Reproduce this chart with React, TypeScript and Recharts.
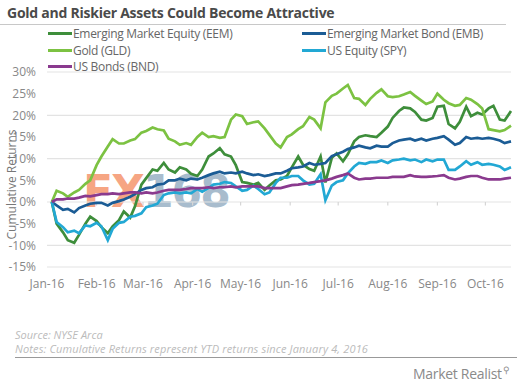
import React from "react";
import {
  LineChart,
  Line,
  XAxis,
  YAxis,
  CartesianGrid,
  ReferenceLine,
} from "recharts";

// day of year 2016 (Jan 1 = 0), about twice a week from Jan 4
const days = [
  3, 6, 10, 13, 17, 20, 24, 27, 31, 34, 38, 41, 45, 48, 52, 55, 59, 62, 66, 69,
  73, 76, 80, 83, 87, 90, 94, 97, 101, 104, 108, 111, 115, 118, 122, 125, 129,
  132, 136, 139, 143, 146, 150, 153, 157, 160, 164, 167, 171, 174, 178, 181,
  185, 188, 192, 195, 199, 202, 206, 209, 213, 216, 220, 223, 227, 230, 234,
  237, 241, 244, 248, 251, 255, 258, 262, 265, 269, 272, 276, 279, 283, 286,
  290,
];

const eem = [
  0, -5.0, -7.0, -8.8, -9.4, -7.6, -5.0, -3.4, -4.4, -5.8,
  -7.2, -5.6, -4.2, -2.2, -3.6, -1.0, 4.0, 5.5, 7.5, 7.2,
  9.0, 7.5, 6.8, 8.0, 7.5, 6.5, 6.0, 7.5, 10.5, 11.2,
  12.4, 11.0, 10.5, 8.5, 4.6, 4.4, 4.0, 4.4, 2.8, 3.8,
  5.0, 5.2, 6.0, 8.0, 10.5, 8.6, 7.6, 7.2, 10.5, 4.5,
  10.2, 11.2, 9.4, 11.0, 14.0, 15.0, 15.4, 15.2, 15.0, 16.0,
  17.4, 19.4, 21.0, 21.8, 21.6, 20.8, 19.0, 18.8, 19.4, 22.0,
  22.2, 18.0, 17.0, 18.5, 22.0, 19.8, 20.6, 20.2, 21.6, 22.2,
  19.0, 18.8, 21.0,
];

const emb = [
  0, -0.8, -1.8, -1.6, -2.4, -1.4, -0.8, -0.4, -0.2, -0.2,
  -0.8, -0.2, 0.2, 0.6, 1.2, 1.8, 2.8, 3.2, 3.4, 4.0,
  4.2, 5.0, 5.0, 5.4, 5.0, 5.4, 5.2, 5.6, 6.2, 6.6,
  7.0, 6.6, 6.8, 6.6, 7.0, 6.6, 6.2, 6.4, 6.0, 6.2,
  6.6, 6.6, 7.2, 7.8, 8.0, 8.2, 9.0, 8.6, 8.8, 9.0,
  10.6, 11.0, 11.6, 12.2, 12.6, 13.0, 12.6, 12.4, 13.0, 12.8,
  12.8, 13.6, 14.2, 14.4, 14.6, 14.2, 14.6, 14.2, 14.6, 14.8,
  15.2, 14.4, 13.2, 13.6, 15.0, 14.6, 14.8, 14.6, 14.8, 14.6,
  14.2, 13.6, 14.0,
];

const gld = [
  0, 2.6, 2.0, 1.2, 2.2, 2.8, 4.2, 5.0, 8.5, 10.5,
  12.8, 14.5, 13.5, 13.5, 14.2, 14.5, 16.0, 16.4, 17.2, 16.8,
  16.5, 14.6, 14.0, 13.2, 13.6, 13.2, 15.0, 16.0, 15.0, 15.2,
  14.8, 15.0, 19.0, 20.2, 19.8, 18.0, 18.4, 18.6, 17.0, 15.5,
  13.5, 12.6, 15.0, 15.6, 16.8, 17.5, 19.6, 19.0, 17.0, 23.0,
  24.5, 25.0, 26.2, 27.0, 24.0, 23.8, 22.4, 23.8, 25.2, 26.0,
  24.4, 24.2, 24.4, 24.8, 25.4, 24.5, 23.4, 22.6, 23.2, 25.0,
  23.6, 22.8, 22.2, 22.4, 24.0, 23.6, 22.6, 21.6, 16.8, 16.6,
  16.3, 16.6, 17.6,
];

const spy = [
  0, -4.6, -5.8, -7.0, -6.6, -7.2, -5.4, -5.6, -4.8, -5.6,
  -8.8, -6.2, -4.8, -4.6, -3.4, -3.2, -2.6, -1.2, -0.8, -0.4,
  1.6, 2.0, 2.2, 2.0, 2.2, 2.0, 3.0, 2.4, 3.2, 4.0,
  4.2, 4.6, 4.4, 3.6, 2.6, 2.8, 3.8, 3.0, 1.8, 2.2,
  4.4, 5.6, 5.6, 6.0, 6.0, 5.0, 4.0, 4.2, 6.4, 0.4,
  3.8, 4.6, 5.0, 6.6, 8.2, 9.0, 8.8, 9.2, 9.2, 9.6,
  9.0, 9.6, 9.8, 10.0, 9.6, 9.8, 9.2, 9.8, 9.4, 9.8,
  9.8, 7.4, 7.4, 8.2, 9.4, 8.6, 9.2, 8.6, 8.8, 8.6,
  8.2, 7.4, 8.0,
];

const bnd = [
  0, 0.6, 0.6, 0.8, 0.8, 1.0, 1.4, 1.3, 1.6, 1.8,
  1.8, 2.0, 1.8, 2.0, 2.2, 2.2, 2.0, 2.2, 2.0, 2.2,
  2.6, 2.8, 2.8, 2.8, 3.0, 3.2, 3.2, 3.2, 3.4, 3.2,
  3.4, 3.4, 3.6, 3.4, 3.6, 3.6, 3.6, 3.6, 3.2, 3.2,
  3.2, 3.2, 3.6, 3.9, 4.0, 4.2, 4.4, 4.6, 4.8, 5.0,
  5.4, 5.8, 6.2, 6.6, 5.6, 5.2, 5.4, 5.4, 5.6, 5.6,
  5.6, 5.8, 5.8, 5.8, 6.2, 5.9, 5.8, 5.8, 5.9, 6.0,
  6.2, 5.6, 5.2, 5.4, 5.8, 6.0, 6.0, 5.6, 5.2, 5.2,
  5.2, 5.4, 5.6,
];

const monthStarts = [0, 31, 60, 91, 121, 152, 182, 213, 244, 274];
const monthLabels = [
  "Jan-16", "Feb-16", "Mar-16", "Apr-16", "May-16",
  "Jun-16", "Jul-16", "Aug-16", "Sep-16", "Oct-16",
];
const yTicks = [-15, -10, -5, 0, 5, 10, 15, 20, 25, 30];

const series = [
  { key: "eem", name: "Emerging Market Equity (EEM)", color: "#3e8e3b" },
  { key: "emb", name: "Emerging Market Bond (EMB)", color: "#1b5c95" },
  { key: "gld", name: "Gold (GLD)", color: "#7cc242" },
  { key: "spy", name: "US Equity (SPY)", color: "#22a8d4" },
  { key: "bnd", name: "US Bonds (BND)", color: "#8a3a8e" },
];

const data = days.map((d, i) => ({
  day: d,
  eem: eem[i],
  emb: emb[i],
  gld: gld[i],
  spy: spy[i],
  bnd: bnd[i],
}));

const font = "'Open Sans', sans-serif";

const legendPos = [
  { left: 48, top: 25 },
  { left: 302, top: 25 },
  { left: 48, top: 42 },
  { left: 302, top: 42 },
  { left: 48, top: 58 },
];

export default function App() {
  return (
    <div
      style={{
        position: "absolute",
        left: 0,
        top: 0,
        width: 532,
        height: 382,
        background: "#fff",
        fontFamily: font,
        overflow: "hidden",
      }}
    >
      <div
        style={{
          position: "absolute",
          left: 7,
          top: 3,
          fontSize: 14,
          fontWeight: 700,
          color: "#4a4a4a",
          whiteSpace: "nowrap",
          letterSpacing: -0.25,
        }}
      >
        Gold and Riskier Assets Could Become Attractive
      </div>
      <div
        style={{
          position: "absolute",
          left: 0,
          top: 24,
          width: 506,
          height: 1,
          background: "#c8c8c8",
        }}
      />

      {/* watermark */}
      <div
        style={{
          position: "absolute",
          left: 83,
          top: 166,
          fontSize: 44,
          fontWeight: 700,
          fontFamily: "'DejaVu Sans', sans-serif",
          whiteSpace: "nowrap",
          letterSpacing: -2,
        }}
      >
        <span style={{ color: "#f6a583" }}>FX</span>
        <span style={{ color: "#a8bccd" }}>168</span>
      </div>

      {series.map((s, i) => (
        <div
          key={s.key}
          style={{
            position: "absolute",
            left: legendPos[i].left,
            top: legendPos[i].top,
            display: "flex",
            alignItems: "center",
            fontSize: 12,
            color: "#666",
            whiteSpace: "nowrap",
            letterSpacing: -0.3,
          }}
        >
          <span
            style={{
              display: "inline-block",
              width: 24,
              height: 3,
              background: s.color,
              marginRight: 1,
            }}
          />
          {s.name}
        </div>
      ))}

      <div style={{ position: "absolute", left: 0, top: 0 }}>
        <LineChart
          width={532}
          height={382}
          data={data}
          margin={{ top: 72, right: 21, bottom: 85, left: 0 }}
        >
          <CartesianGrid vertical={false} stroke="#e3e3e3" strokeWidth={1.2} />
          <XAxis
            type="number"
            dataKey="day"
            domain={[0, 290]}
            ticks={monthStarts}
            tickFormatter={(v: number) => monthLabels[monthStarts.indexOf(v)]}
            axisLine={false}
            tickLine={false}
            tickSize={0}
            tickMargin={12}
            interval={0}
            tick={{ fill: "#888", fontSize: 12, fontFamily: font }}
          />
          <YAxis
            type="number"
            domain={[-15, 30]}
            ticks={yTicks}
            tickFormatter={(v: number) => `${v}%`}
            axisLine={false}
            tickLine={false}
            tickSize={0}
            tickMargin={11}
            width={47}
            tick={{ fill: "#888", fontSize: 12, fontFamily: font }}
            label={{
              value: "Cumulative Returns",
              angle: -90,
              position: "insideLeft",
              offset: 12,
              dy: 15,
              style: {
                fill: "#777",
                fontSize: 12,
                fontFamily: font,
                textAnchor: "middle",
              },
            }}
          />
          {monthStarts.slice(1).map((m) => (
            <ReferenceLine
              key={m}
              segment={[
                { x: m, y: 0 },
                { x: m, y: -0.8 },
              ]}
              stroke="#d6d6d6"
              strokeWidth={1.2}
            />
          ))}
          {series.map((s) => (
            <Line
              key={s.key}
              type="linear"
              dataKey={s.key}
              stroke={s.color}
              strokeWidth={2.7}
              dot={false}
              isAnimationActive={false}
            />
          ))}
        </LineChart>
      </div>

      <div
        style={{
          position: "absolute",
          left: 15,
          top: 327,
          fontSize: 11,
          fontStyle: "italic",
          color: "#bbb",
          whiteSpace: "nowrap",
        }}
      >
        Source: NYSE Arca
      </div>
      <div
        style={{
          position: "absolute",
          left: 15,
          top: 341,
          fontSize: 11,
          fontStyle: "italic",
          color: "#bbb",
          whiteSpace: "nowrap",
          letterSpacing: 0.15,
        }}
      >
        Notes: Cumulative Returns represent YTD returns since January 4, 2016
      </div>
      <div
        style={{
          position: "absolute",
          left: 15,
          top: 357,
          width: 502,
          height: 1,
          background: "#999",
        }}
      />
      <div
        style={{
          position: "absolute",
          left: 413,
          top: 363,
          fontSize: 14,
          color: "#8a8a8a",
          whiteSpace: "nowrap",
          letterSpacing: -0.3,
        }}
      >
        Market Realist
        <sup style={{ fontSize: 9, marginLeft: 1 }}>&#9906;</sup>
      </div>
    </div>
  );
}
